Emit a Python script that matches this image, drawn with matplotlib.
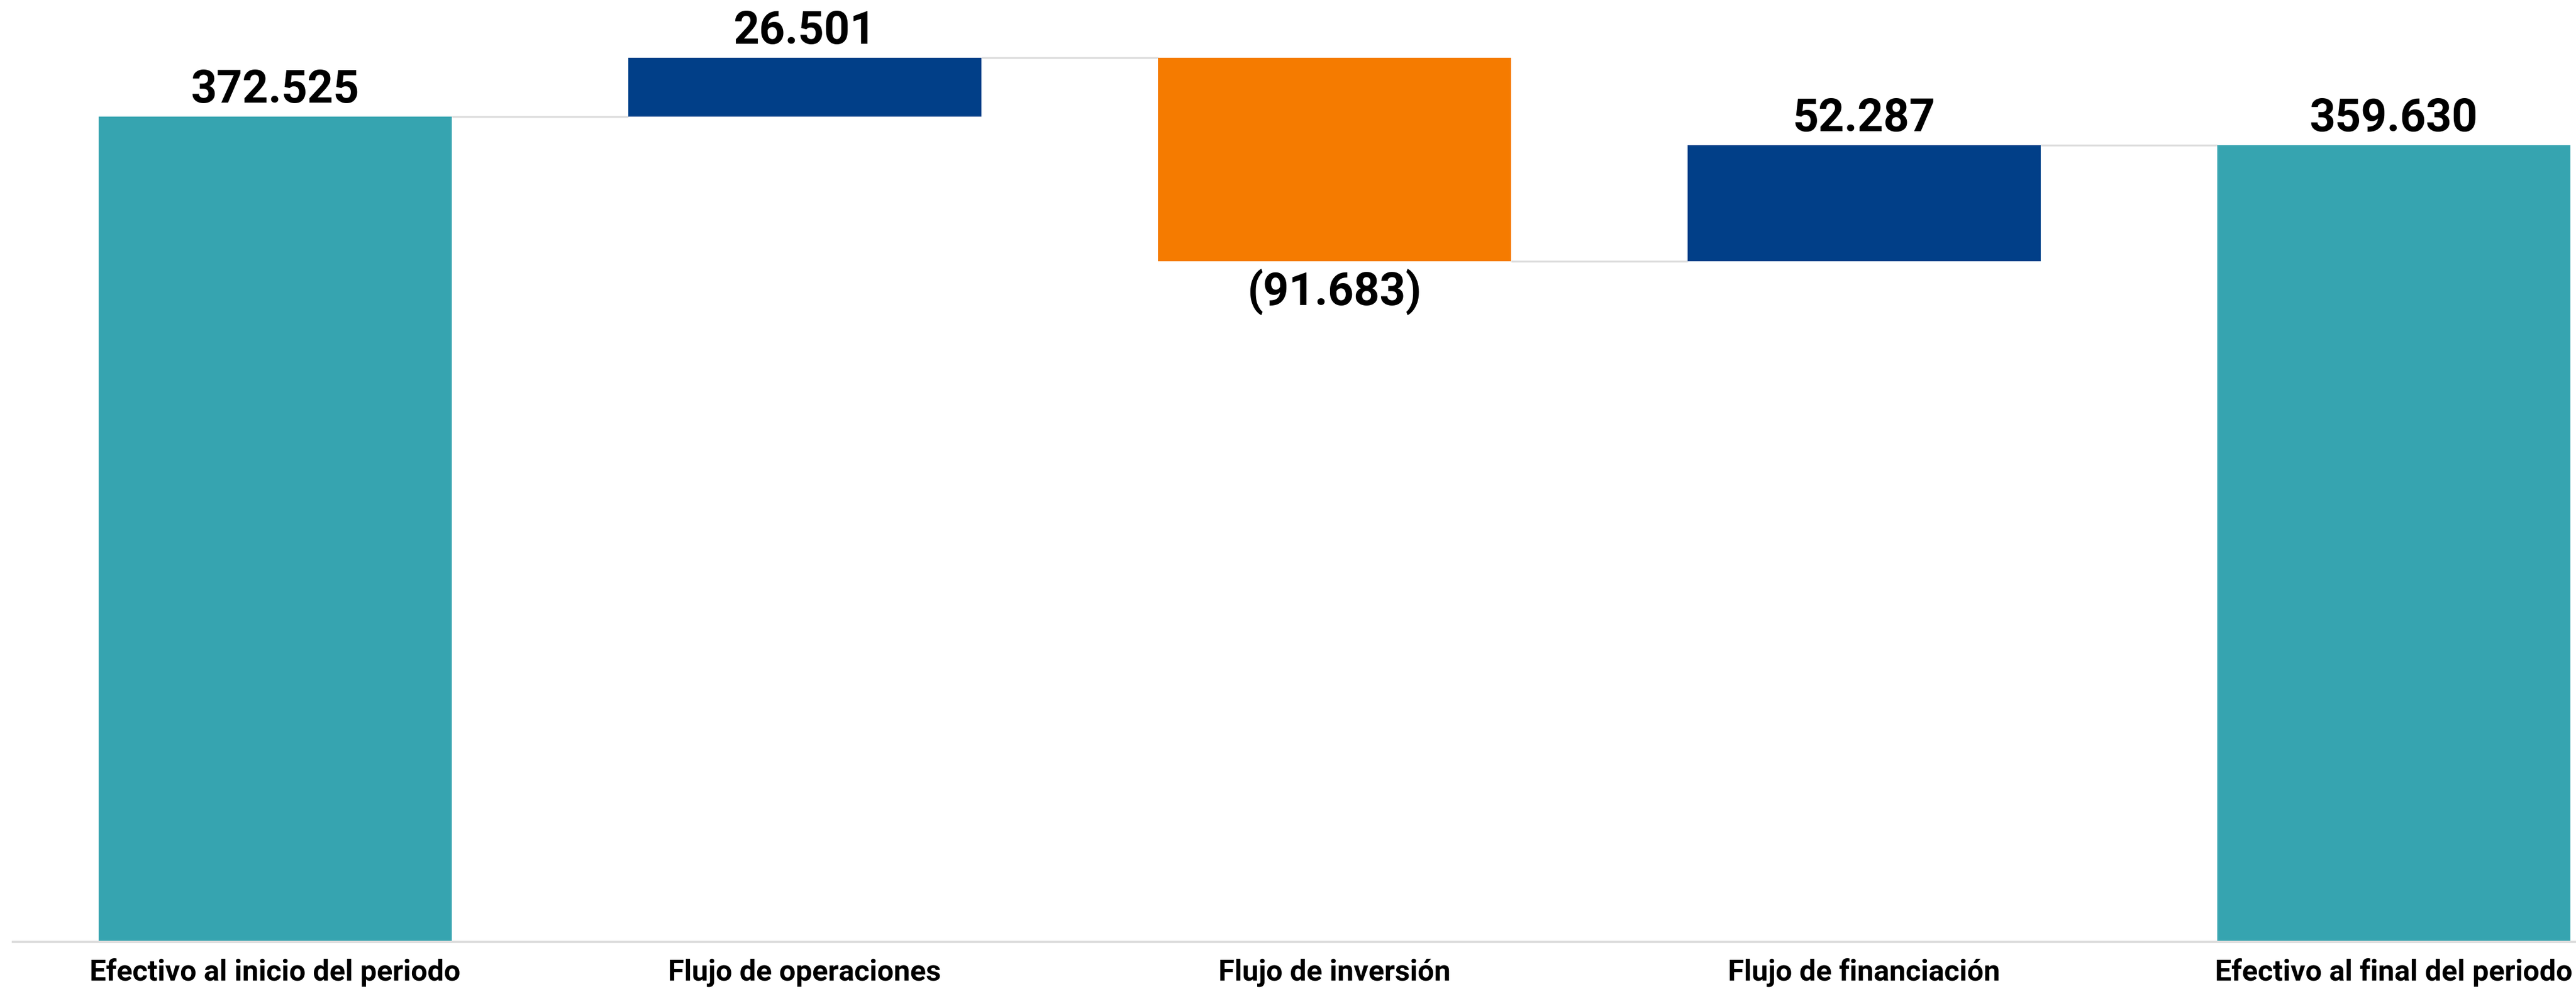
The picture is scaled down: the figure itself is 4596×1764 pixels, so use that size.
"""
Waterfall chart: cash flow from start to end of period
"""

import matplotlib.pyplot as plt
import numpy as np

plt.rcParams['font.family'] = ['Roboto', 'DejaVu Sans']

categories = ['Efectivo al inicio del periodo', 'Flujo de operaciones',
              'Flujo de inversión', 'Flujo de financiación',
              'Efectivo al final del periodo']
values = [372525, 26501, -91683, 52287, 359630]
is_total = [True, False, False, False, True]

TEAL = '#36A4B0'
NAVY = '#013F88'
ORANGE = '#F57B00'
GRID = '#DDDDDD'


def fmt(v):
    s = f"{abs(v):,}".replace(',', '.')
    return f"({s})" if v < 0 else s


# Compute bar bottoms / heights
bottoms, heights, colors = [], [], []
running = 0
for v, tot in zip(values, is_total):
    if tot:
        bottoms.append(0)
        heights.append(v)
        colors.append(TEAL)
        running = v
    else:
        if v >= 0:
            bottoms.append(running)
            colors.append(NAVY)
        else:
            bottoms.append(running + v)
            colors.append(ORANGE)
        heights.append(abs(v))
        running += v

fig = plt.figure(figsize=(45.96, 17.64), dpi=100)
ax = fig.add_axes([0.005, 0.0476, 0.995, 0.9524])

x = np.arange(len(categories))
width = 0.667
ax.bar(x, heights, bottom=bottoms, width=width, color=colors, zorder=2)

# Connector lines between bars
running = 0
for i, (v, tot) in enumerate(zip(values, is_total)):
    running = v if tot else running + v
    if i < len(values) - 1:
        ax.hlines(running, x[i] + width / 2, x[i + 1] - width / 2,
                  color=GRID, linewidth=2.5, zorder=1)

# Value labels
for i, v in enumerate(values):
    top = bottoms[i] + heights[i]
    if v >= 0:
        ax.annotate(fmt(v), (x[i], top), xytext=(0, 6), textcoords='offset points',
                    ha='center', va='bottom', fontsize=58, fontweight='bold', color='black')
    else:
        ax.annotate(fmt(v), (x[i], bottoms[i]), xytext=(0, -10), textcoords='offset points',
                    ha='center', va='top', fontsize=58, fontweight='bold', color='black')

ax.set_xlim(-0.495, 4.344)
ax.set_ylim(0, 425200)
ax.set_xticks(x)
ax.set_xticklabels(categories, fontsize=37.5, fontweight='bold')
ax.tick_params(axis='x', length=0, pad=21)
ax.set_yticks([])

for side in ['top', 'right', 'left']:
    ax.spines[side].set_visible(False)
ax.spines['bottom'].set_color(GRID)
ax.spines['bottom'].set_linewidth(3)

fig.savefig('out.png', dpi=100)
